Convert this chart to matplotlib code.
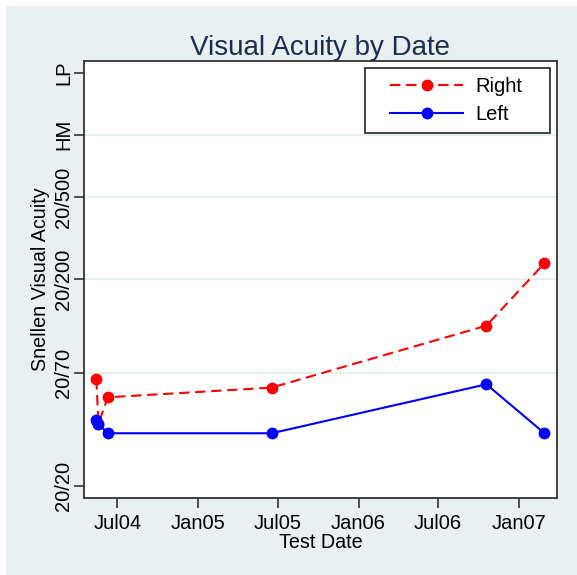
import datetime as dt
import matplotlib
matplotlib.use("Agg")
import matplotlib.pyplot as plt
import matplotlib.dates as mdates
from matplotlib.patches import Rectangle
from matplotlib.legend_handler import HandlerLine2D

plt.rcParams['font.family'] = ['Liberation Sans', 'DejaVu Sans']

# ---- data ----
test_dates = [dt.date(2004, 5, 14), dt.date(2004, 5, 19), dt.date(2004, 6, 9),
              dt.date(2005, 6, 17), dt.date(2006, 10, 19), dt.date(2007, 2, 28)]
right_logmar = [0.517, 0.30, 0.428, 0.475, 0.775, 1.077]
left_logmar = [0.320, 0.299, 0.254, 0.254, 0.491, 0.254]

ytick_values = [0.0, 0.544, 1.0, 1.398, 1.7, 2.0]
ytick_labels = ["20/20", "20/70", "20/200", "20/500", "HM", "LP"]
xtick_dates = [dt.date(2004, 7, 1), dt.date(2005, 1, 1), dt.date(2005, 7, 1),
               dt.date(2006, 1, 1), dt.date(2006, 7, 1), dt.date(2007, 1, 1)]

W, H = 577, 575
fig = plt.figure(figsize=(W / 100, H / 100), dpi=100, facecolor="white")
bg = "#eaf0f2"
fig.add_artist(Rectangle((6 / W, 0), (W - 6) / W, (H - 6) / H,
                         transform=fig.transFigure, facecolor=bg,
                         edgecolor="none", zorder=-10))

ax = fig.add_axes([84 / W, 1 - 498.3 / H, (556.7 - 84) / W, (498.3 - 60.7) / H])
ax.set_zorder(1)
ax.set_facecolor("white")

for v in ytick_values[1:-1]:
    ax.axhline(v, color="#e6eef0", lw=1.4, zorder=1)

ax.plot(test_dates, right_logmar, color="#ff0000", lw=1.5, dashes=(5, 2.7),
        marker="o", ms=7.5, label="Right", zorder=3)
ax.plot(test_dates, left_logmar, color="#0000ff", lw=1.5,
        marker="o", ms=7.5, label="Left", zorder=4)

ax.set_ylim(-0.061, 2.058)
ax.set_xlim(dt.date(2004, 4, 16), dt.date(2007, 3, 28))
ax.set_yticks(ytick_values)
ax.set_yticklabels(ytick_labels, rotation=90, va="center")
ax.set_xticks(xtick_dates)
ax.xaxis.set_major_formatter(mdates.DateFormatter("%b%y"))

ax.tick_params(axis="both", direction="out", length=7, width=1.2,
               color="#333333", labelsize=14.5, labelcolor="black")
ax.tick_params(axis="y", pad=1)
ax.tick_params(axis="x", pad=4)
for sp in ax.spines.values():
    sp.set_color("#333333")
    sp.set_linewidth(1.3)

ax.set_title("Visual Acuity by Date", fontsize=20, color="#1c2d4f", pad=1)
ax.set_xlabel("Test Date", fontsize=14.2, labelpad=0)
ax.set_ylabel("Snellen Visual Acuity", fontsize=14.2, labelpad=2.6)

x0 = (365 - 84) / (556.7 - 84)
x1 = (550 - 84) / (556.7 - 84)
ytop = (498.3 - 67.7) / (498.3 - 60.7)
leg = ax.legend(loc="upper left", bbox_to_anchor=(x0, 0.5, x1 - x0, ytop - 0.5),
                mode="expand", borderaxespad=0, fontsize=14.5,
                handlelength=4.4, handletextpad=0.6, labelspacing=0.42,
                borderpad=0.48, fancybox=False, framealpha=1,
                edgecolor="#222222",
                handler_map={plt.Line2D: HandlerLine2D(numpoints=1, xpad=0.78)})
leg.get_frame().set_linewidth(1.2)

fig.savefig("out.png", dpi=100, facecolor="white")
